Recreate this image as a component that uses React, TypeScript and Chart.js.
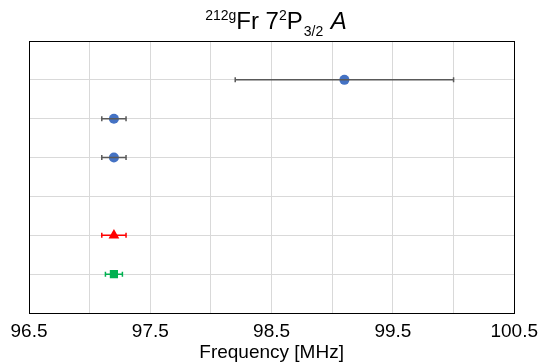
import React, { useEffect, useRef } from "react";
import { Chart, registerables } from "chart.js";

Chart.register(...registerables);

// Data
const blueValues = [99.1, 97.2, 97.2];
const blueErrors = [0.9, 0.1, 0.1];
const blueRows = [6, 5, 4];
const redValues = [97.2];
const redErrors = [0.1];
const redRows = [2];
const greenValues = [97.2];
const greenErrors = [0.07];
const greenRows = [1];
const xTickLabels = [96.5, 97.5, 98.5, 99.5, 100.5];
const xAxisTitle = "Frequency [MHz]";

const BLUE = "#4472C4";
const RED = "#FF0000";
const GREEN = "#00B050";
const FONT = "'Liberation Sans', Arial, sans-serif";

const errorBarPlugin = {
  id: "errorBars",
  afterDatasetsDraw(chart: any) {
    const ctx = chart.ctx;
    const xs = chart.scales.x;
    const ys = chart.scales.y;
    chart.data.datasets.forEach((ds: any) => {
      const errs: number[] = ds.errors || [];
      ctx.save();
      ctx.strokeStyle = ds.errorColor;
      ctx.lineWidth = 1.5;
      ds.data.forEach((p: any, i: number) => {
        const e = errs[i];
        if (e == null) return;
        const x1 = xs.getPixelForValue(p.x - e);
        const x2 = xs.getPixelForValue(p.x + e);
        const y = ys.getPixelForValue(p.y);
        ctx.beginPath();
        ctx.moveTo(x1, y);
        ctx.lineTo(x2, y);
        ctx.moveTo(x1, y - 2.5);
        ctx.lineTo(x1, y + 2.5);
        ctx.moveTo(x2, y - 2.5);
        ctx.lineTo(x2, y + 2.5);
        ctx.stroke();
      });
      ctx.restore();
    });
  },
};

const frameTitlePlugin = {
  id: "frameTitle",
  afterDraw(chart: any) {
    const ctx = chart.ctx;
    const a = chart.chartArea;
    ctx.save();
    ctx.strokeStyle = "#000";
    ctx.lineWidth = 1;
    ctx.strokeRect(Math.round(a.left) + 0.5, Math.round(a.top) + 0.5, Math.round(a.right - a.left), Math.round(a.bottom - a.top));
    // rich title
    const parts = [
      { t: "212g", f: `14px ${FONT}`, dy: -9, gap: 0 },
      { t: "Fr 7", f: `24px ${FONT}`, dy: 0, gap: 0 },
      { t: "2", f: `14px ${FONT}`, dy: -9, gap: 0 },
      { t: "P", f: `24px ${FONT}`, dy: 0, gap: 1 },
      { t: "3/2", f: `14px ${FONT}`, dy: 7, gap: 1 },
      { t: " ", f: `24px ${FONT}`, dy: 0, gap: 0 },
      { t: "A", f: `italic 24px ${FONT}`, dy: 0, gap: 0 },
    ];
    let total = 0;
    const widths = parts.map((p) => {
      ctx.font = p.f;
      const w = ctx.measureText(p.t).width + p.gap;
      total += w;
      return w;
    });
    let x = 276 - total / 2;
    const base = 28.5;
    ctx.fillStyle = "#000";
    ctx.textBaseline = "alphabetic";
    ctx.textAlign = "left";
    parts.forEach((p, i) => {
      ctx.font = p.f;
      ctx.fillText(p.t, x, base + p.dy);
      x += widths[i];
    });
    ctx.restore();
  },
};

export default function App() {
  const ref = useRef<HTMLCanvasElement>(null);
  useEffect(() => {
    document.body.style.margin = "0";
    const mk = (vals: number[], rows: number[]) => vals.map((v, i) => ({ x: v, y: rows[i] }));
    const chart = new Chart(ref.current!, {
      type: "scatter",
      data: {
        datasets: [
          {
            data: mk(blueValues, blueRows),
            errors: blueErrors,
            errorColor: "#595959",
            pointStyle: "circle",
            pointRadius: 5,
            backgroundColor: BLUE,
            borderColor: BLUE,
            borderWidth: 0,
          } as any,
          {
            data: mk(redValues, redRows),
            errors: redErrors,
            errorColor: RED,
            pointStyle: "triangle",
            pointRadius: 6.2,
            backgroundColor: RED,
            borderColor: RED,
            borderWidth: 0,
          } as any,
          {
            data: mk(greenValues, greenRows),
            errors: greenErrors,
            errorColor: GREEN,
            pointStyle: "rect",
            pointRadius: 5.8,
            backgroundColor: GREEN,
            borderColor: GREEN,
            borderWidth: 0,
          } as any,
        ],
      },
      options: {
        animation: false,
        responsive: false,
        maintainAspectRatio: false,
        layout: { padding: { left: 29, right: 26, top: 41, bottom: 0 } },
        plugins: { legend: { display: false }, tooltip: { enabled: false }, title: { display: false } },
        scales: {
          x: {
            type: "linear",
            min: 96.5,
            max: 100.5,
            ticks: {
              stepSize: 0.5,
              autoSkip: false,
              maxRotation: 0,
              padding: 7,
              color: "#000",
              font: { family: FONT, size: 19 },
              callback: (v: any) => {
                const n = Number(v);
                return xTickLabels.some((t) => Math.abs(t - n) < 1e-6) ? String(n.toFixed(1)) : "";
              },
            },
            grid: { color: "#d9d9d9", drawTicks: false, lineWidth: 1 },
            border: { display: false },
            title: {
              display: true,
              text: xAxisTitle,
              color: "#000",
              font: { family: FONT, size: 19 },
              padding: { top: 0, bottom: 0 },
            },
            afterFit: (s: any) => {
              s.height = 51;
            },
          },
          y: {
            type: "linear",
            min: 0,
            max: 7,
            ticks: { stepSize: 1, display: false },
            grid: { color: "#d9d9d9", drawTicks: false, lineWidth: 1 },
            border: { display: false },
            afterFit: (s: any) => {
              s.width = 0;
            },
          },
        },
      } as any,
      plugins: [errorBarPlugin, frameTitlePlugin],
    });
    return () => chart.destroy();
  }, []);
  return (
    <div style={{ width: 545, height: 364 }}>
      <canvas ref={ref} width={545} height={364} style={{ display: "block" }} />
    </div>
  );
}
